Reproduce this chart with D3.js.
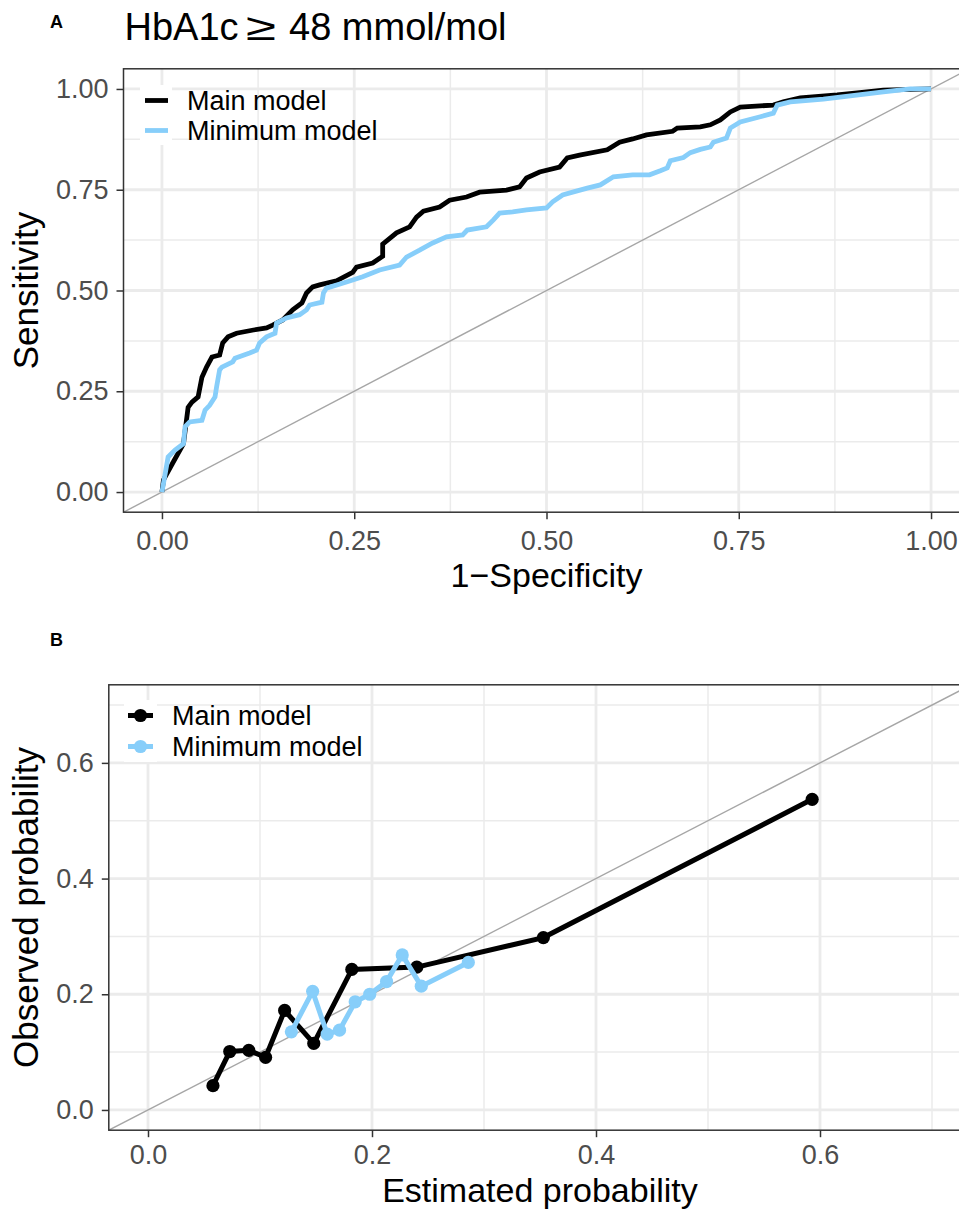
<!DOCTYPE html>
<html lang="en">
<head>
  <meta charset="UTF-8">
  <title>HbA1c ROC and calibration</title>
  <script src="https://d3js.org/d3.v7.min.js"></script>
  <style>
    body { margin: 0; background: #fff; }
  </style>
</head>
<body>
  <div id="chart"></div>

  <script>
    // --- ROC curves (1-specificity, sensitivity) ---
    const rocMainFpr = [0, 0.002, 0.014, 0.028, 0.034, 0.039, 0.047, 0.052, 0.058, 0.065, 0.075, 0.079, 0.086, 0.097,
      0.119, 0.136, 0.144, 0.157, 0.170, 0.182, 0.188, 0.196, 0.205, 0.227, 0.248, 0.253, 0.274, 0.287, 0.287, 0.305,
      0.322, 0.331, 0.340, 0.361, 0.374, 0.396, 0.413, 0.448, 0.465, 0.474, 0.491, 0.517, 0.527, 0.543, 0.579, 0.595,
      0.612, 0.630, 0.664, 0.670, 0.700, 0.713, 0.726, 0.739, 0.752, 0.795, 0.808, 0.830, 0.878, 0.904, 0.938, 1];
    const rocMainTpr = [0, 0.03, 0.072, 0.12, 0.21, 0.223, 0.236, 0.285, 0.31, 0.335, 0.34, 0.37, 0.385, 0.394,
      0.402, 0.407, 0.414, 0.427, 0.452, 0.469, 0.494, 0.509, 0.514, 0.524, 0.545, 0.558, 0.568, 0.585, 0.615, 0.643,
      0.658, 0.682, 0.697, 0.707, 0.724, 0.732, 0.744, 0.749, 0.757, 0.779, 0.794, 0.806, 0.829, 0.836, 0.849, 0.868,
      0.876, 0.886, 0.895, 0.903, 0.906, 0.911, 0.923, 0.943, 0.955, 0.960, 0.968, 0.978, 0.985, 0.990, 0.997, 1];

    const rocMinFpr = [0, 0.008, 0.017, 0.028, 0.030, 0.036, 0.052, 0.056, 0.062, 0.069, 0.071, 0.075, 0.078, 0.092,
      0.095, 0.114, 0.123, 0.127, 0.136, 0.147, 0.149, 0.162, 0.179, 0.188, 0.192, 0.208, 0.210, 0.214, 0.240, 0.261,
      0.283, 0.309, 0.318, 0.335, 0.352, 0.370, 0.391, 0.397, 0.422, 0.431, 0.439, 0.456, 0.474, 0.500, 0.508, 0.521,
      0.534, 0.553, 0.570, 0.587, 0.612, 0.634, 0.648, 0.657, 0.661, 0.678, 0.687, 0.700, 0.713, 0.717, 0.734, 0.739,
      0.752, 0.778, 0.795, 0.800, 0.817, 0.860, 0.895, 0.938, 0.973, 1];
    const rocMinTpr = [0, 0.087, 0.104, 0.12, 0.162, 0.174, 0.178, 0.203, 0.215, 0.236, 0.26, 0.303, 0.31, 0.323,
      0.332, 0.345, 0.352, 0.37, 0.385, 0.394, 0.419, 0.432, 0.44, 0.452, 0.464, 0.471, 0.494, 0.506, 0.521, 0.534,
      0.551, 0.563, 0.583, 0.600, 0.618, 0.633, 0.638, 0.650, 0.658, 0.675, 0.692, 0.695, 0.700, 0.705, 0.720, 0.737,
      0.744, 0.754, 0.762, 0.782, 0.787, 0.787, 0.797, 0.804, 0.822, 0.830, 0.842, 0.850, 0.856, 0.868, 0.878, 0.903,
      0.918, 0.931, 0.940, 0.960, 0.968, 0.975, 0.983, 0.993, 1.0, 1];

    // --- Calibration (estimated vs observed probability by group) ---
    const calMainEst = [0.058, 0.073, 0.090, 0.105, 0.122, 0.148, 0.182, 0.240, 0.353, 0.593];
    const calMainObs = [0.042, 0.101, 0.103, 0.091, 0.172, 0.115, 0.243, 0.247, 0.298, 0.537];
    const calMinEst = [0.128, 0.147, 0.160, 0.171, 0.185, 0.198, 0.213, 0.227, 0.244, 0.286];
    const calMinObs = [0.135, 0.205, 0.131, 0.138, 0.187, 0.200, 0.222, 0.268, 0.214, 0.255];

    const seriesNames = ["Main model", "Minimum model"];
    const seriesColors = ["#000000", "#87CEFA"];

    const rocTicks = [0, 0.25, 0.5, 0.75, 1];
    const rocMinor = [0.125, 0.375, 0.625, 0.875];
    const calTicks = [0, 0.2, 0.4, 0.6];
    const calMinor = [0.1, 0.3, 0.5, 0.7];

    const font = "'Liberation Sans', Arial, Helvetica, sans-serif";

    const svg = d3.select("#chart").append("svg")
      .attr("width", 959)
      .attr("height", 1210)
      .style("font-family", font);

    // draws grid and axes of one ggplot-like panel
    function drawPanel(id, x, y, ticks, minor, fmt, xPad) {
      const [x0, x1] = x.range();
      const [y0, y1] = y.range();
      const g = svg.append("g");

      g.append("clipPath").attr("id", id)
        .append("rect")
        .attr("x", x0).attr("y", y1)
        .attr("width", x1 - x0).attr("height", y0 - y1);

      const grid = g.append("g").attr("stroke", "#EBEBEB");
      grid.selectAll(".vmin").data(minor).join("line")
        .attr("x1", d => x(d)).attr("x2", d => x(d)).attr("y1", y0).attr("y2", y1)
        .attr("stroke-width", 1.5);
      grid.selectAll(".hmin").data(minor).join("line")
        .attr("y1", d => y(d)).attr("y2", d => y(d)).attr("x1", x0).attr("x2", x1)
        .attr("stroke-width", 1.5);
      grid.selectAll(".vmaj").data(ticks).join("line")
        .attr("x1", d => x(d)).attr("x2", d => x(d)).attr("y1", y0).attr("y2", y1)
        .attr("stroke-width", 2.8);
      grid.selectAll(".hmaj").data(ticks).join("line")
        .attr("y1", d => y(d)).attr("y2", d => y(d)).attr("x1", x0).attr("x2", x1)
        .attr("stroke-width", 2.8);

      const xAxis = g.append("g")
        .attr("transform", `translate(0,${y0})`)
        .call(d3.axisBottom(x).tickValues(ticks).tickFormat(fmt).tickSize(7).tickPadding(xPad));
      const yAxis = g.append("g")
        .attr("transform", `translate(${x0},0)`)
        .call(d3.axisLeft(y).tickValues(ticks).tickFormat(fmt).tickSize(7).tickPadding(8));

      [xAxis, yAxis].forEach(a => {
        a.attr("font-family", font);
        a.select(".domain").remove();
        a.selectAll("line").attr("stroke", "#333333").attr("stroke-width", 1.5);
        a.selectAll("text").attr("fill", "#4D4D4D").attr("font-size", 27);
      });

      return g;
    }

    function drawBorder(g, x, y) {
      const [x0, x1] = x.range();
      const [y0, y1] = y.range();
      g.append("rect")
        .attr("x", x0).attr("y", y1)
        .attr("width", x1 - x0).attr("height", y0 - y1)
        .attr("fill", "none")
        .attr("stroke", "#333333")
        .attr("stroke-width", 1.5);
    }

    function diagonal(g, x, y, id, lo, hi) {
      g.append("line")
        .attr("clip-path", `url(#${id})`)
        .attr("x1", x(lo)).attr("y1", y(lo))
        .attr("x2", x(hi)).attr("y2", y(hi))
        .attr("stroke", "#A6A6A6")
        .attr("stroke-width", 1.4);
    }

    // --- Panel A: ROC ---
    const xA = d3.scaleLinear().domain([-0.05, 1.05]).range([123.5, 969.5]);
    const yA = d3.scaleLinear().domain([-0.05, 1.05]).range([512.2, 68.8]);
    const gA = drawPanel("clipA", xA, yA, rocTicks, rocMinor, d3.format(".2f"), 12);
    diagonal(gA, xA, yA, "clipA", -0.1, 1.1);

    const rocLine = d3.line().x(d => xA(d[0])).y(d => yA(d[1]));
    const rocSeries = [
      d3.zip(rocMainFpr, rocMainTpr),
      d3.zip(rocMinFpr, rocMinTpr)
    ];
    rocSeries.forEach((pts, i) => {
      gA.append("path")
        .datum(pts)
        .attr("clip-path", "url(#clipA)")
        .attr("fill", "none")
        .attr("stroke", seriesColors[i])
        .attr("stroke-width", 4.8)
        .attr("d", rocLine);
    });
    drawBorder(gA, xA, yA);

    // legend A
    seriesNames.forEach((name, i) => {
      const ky = 85 + i * 30;
      gA.append("rect").attr("x", 140).attr("y", ky).attr("width", 32).attr("height", 30).attr("fill", "#fff");
      gA.append("line")
        .attr("x1", 145).attr("x2", 168)
        .attr("y1", ky + 15.5).attr("y2", ky + 15.5)
        .attr("stroke", seriesColors[i]).attr("stroke-width", 4.8);
      gA.append("text")
        .attr("x", 187).attr("y", ky + 25)
        .attr("font-size", 27)
        .attr("fill", "#000")
        .text(name);
    });

    // titles A
    svg.append("text").attr("x", 50).attr("y", 28)
      .attr("font-size", 18).attr("font-weight", "bold").text("A");
    svg.append("text").attr("x", 124.5).attr("y", 40).attr("font-size", 38).text("HbA1c");
    svg.append("text").attr("transform", "translate(246,40) scale(1.45,1)").attr("font-size", 38).text("\u2265");
    svg.append("text").attr("x", 289).attr("y", 40).attr("font-size", 38).text("48 mmol/mol");

    svg.append("text")
      .attr("x", xA(0.5)).attr("y", 587)
      .attr("text-anchor", "middle").attr("font-size", 34)
      .text("1\u2212Specificity");
    svg.append("text")
      .attr("transform", `translate(38,${yA(0.5)}) rotate(-90)`)
      .attr("text-anchor", "middle").attr("font-size", 35)
      .text("Sensitivity");

    // --- Panel B: calibration ---
    const xB = d3.scaleLinear().domain([-0.035, 0.735]).range([108.8, 971.2]);
    const yB = d3.scaleLinear().domain([-0.035, 0.735]).range([1130.2, 684.8]);
    const gB = drawPanel("clipB", xB, yB, calTicks, calMinor, d3.format(".1f"), 8);
    diagonal(gB, xB, yB, "clipB", -0.1, 0.8);

    const calLine = d3.line().x(d => xB(d[0])).y(d => yB(d[1]));
    const calSeries = [
      d3.zip(calMainEst, calMainObs),
      d3.zip(calMinEst, calMinObs)
    ];
    calSeries.forEach((pts, i) => {
      gB.append("path")
        .datum(pts)
        .attr("fill", "none")
        .attr("stroke", seriesColors[i])
        .attr("stroke-width", 5)
        .attr("d", calLine);
      gB.selectAll(null).data(pts).join("circle")
        .attr("cx", d => xB(d[0]))
        .attr("cy", d => yB(d[1]))
        .attr("r", 6.6)
        .attr("fill", seriesColors[i]);
    });
    drawBorder(gB, xB, yB);

    // legend B
    seriesNames.forEach((name, i) => {
      const ky = 700 + i * 31;
      gB.append("rect").attr("x", 124).attr("y", ky).attr("width", 33).attr("height", 31).attr("fill", "#fff");
      gB.append("line")
        .attr("x1", 128).attr("x2", 153)
        .attr("y1", ky + 15.5).attr("y2", ky + 15.5)
        .attr("stroke", seriesColors[i]).attr("stroke-width", 5);
      gB.append("circle")
        .attr("cx", 140.5).attr("cy", ky + 15.5).attr("r", 6.6)
        .attr("fill", seriesColors[i]);
      gB.append("text")
        .attr("x", 172).attr("y", ky + 25)
        .attr("font-size", 27)
        .attr("fill", "#000")
        .text(name);
    });

    svg.append("text").attr("x", 50).attr("y", 646)
      .attr("font-size", 18).attr("font-weight", "bold").text("B");
    svg.append("text")
      .attr("x", xB(0.35)).attr("y", 1202)
      .attr("text-anchor", "middle").attr("font-size", 34)
      .text("Estimated probability");
    svg.append("text")
      .attr("transform", `translate(38,${yB(0.35)}) rotate(-90)`)
      .attr("text-anchor", "middle").attr("font-size", 35)
      .text("Observed probability");
  </script>
</body>
</html>
